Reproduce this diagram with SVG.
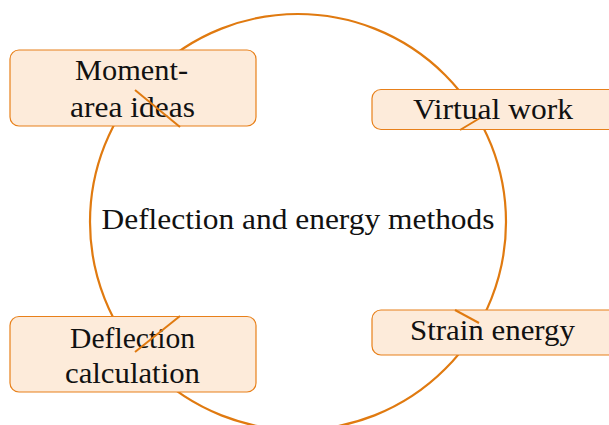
<svg xmlns="http://www.w3.org/2000/svg" width="609" height="425" viewBox="0 0 609 425">
<style>
.box{fill:#FDEBDA;stroke:#E8801A;stroke-width:1.2}
.t{font-family:"Liberation Serif","DejaVu Serif",serif;font-size:29px;fill:#111111;text-anchor:middle}
.ring{fill:none;stroke:#E07A10;stroke-width:2.2}
.c{stroke:#E07A10;stroke-width:2;fill:none}
</style>
<rect width="609" height="425" fill="#ffffff"/>
<g id="cycle">
<circle class="ring" cx="298" cy="222" r="208"/>
<text class="t" x="298" y="229" textLength="393" lengthAdjust="spacingAndGlyphs">Deflection and energy methods</text>
</g>
<g id="moment-area">
<rect class="box" x="10" y="50" width="246" height="76" rx="9"/>
<text class="t" x="131.5" y="80" textLength="113" lengthAdjust="spacingAndGlyphs">Moment-</text>
<text class="t" x="132.5" y="117" textLength="125" lengthAdjust="spacingAndGlyphs">area ideas</text>
</g>
<g id="virtual-work">
<rect class="box" x="372" y="89.5" width="246" height="40" rx="9"/>
<text class="t" x="493" y="119" textLength="160" lengthAdjust="spacingAndGlyphs">Virtual work</text>
</g>
<g id="strain-energy">
<rect class="box" x="372" y="310" width="246" height="45" rx="9"/>
<text class="t" x="492.5" y="340" textLength="165" lengthAdjust="spacingAndGlyphs">Strain energy</text>
</g>
<g id="deflection-calculation">
<rect class="box" x="10" y="316.5" width="246" height="75.5" rx="9"/>
<text class="t" x="132.5" y="348" textLength="125" lengthAdjust="spacingAndGlyphs">Deflection</text>
<text class="t" x="132.5" y="383" textLength="135" lengthAdjust="spacingAndGlyphs">calculation</text>
</g>
<g id="connectors">
<line class="c" x1="135" y1="90" x2="180" y2="127"/>
<line class="c" x1="460" y1="130" x2="480" y2="118"/>
<line class="c" x1="455" y1="310" x2="479" y2="323"/>
<line class="c" x1="135" y1="352" x2="180" y2="316"/>
</g>
</svg>
